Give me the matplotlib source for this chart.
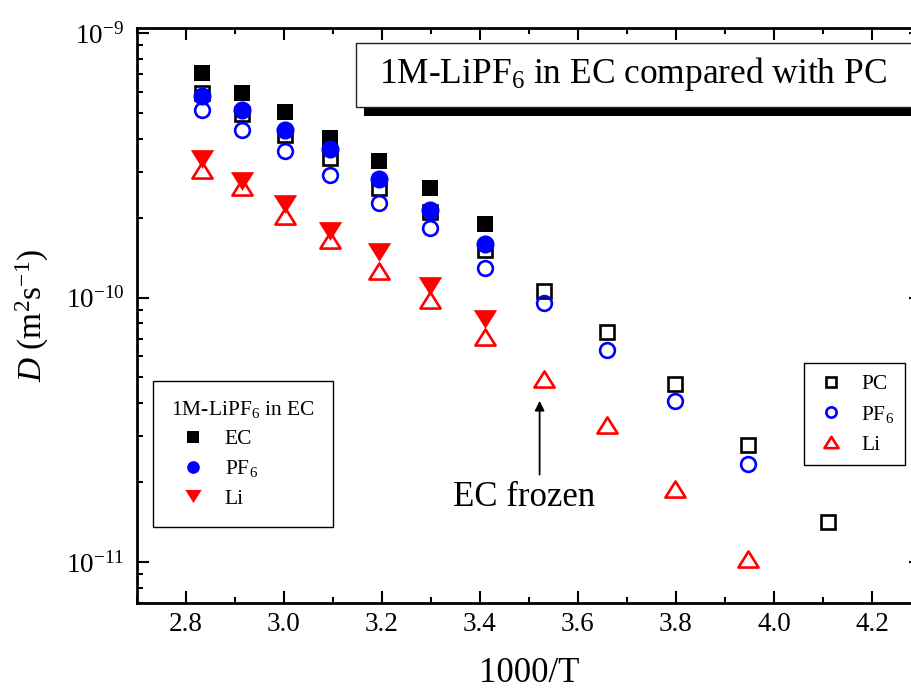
import matplotlib
matplotlib.use('Agg')
import matplotlib.pyplot as plt
from matplotlib.path import Path
from matplotlib.markers import MarkerStyle
from matplotlib.patches import Rectangle
from matplotlib.ticker import MultipleLocator, LogLocator, FormatStrFormatter, NullFormatter

# 数据：扩散系数 D (m^2/s) 与 1000/T
x_ec = [2.833, 2.914, 3.002, 3.095, 3.194, 3.299, 3.411]
x_pc = [2.833, 2.914, 3.002, 3.095, 3.194, 3.299, 3.411, 3.531, 3.660, 3.799, 3.948, 4.111]

# 1M-LiPF6 in EC（实心符号）
D_ec_solvent = [7.10e-10, 5.97e-10, 5.05e-10, 4.02e-10, 3.30e-10, 2.60e-10, 1.90e-10]
D_ec_pf6 = [5.79e-10, 5.11e-10, 4.31e-10, 3.65e-10, 2.81e-10, 2.14e-10, 1.60e-10]
D_ec_li = [3.35e-10, 2.77e-10, 2.27e-10, 1.78e-10, 1.49e-10, 1.11e-10, 8.32e-11]

# 1M-LiPF6 in PC（空心符号）
D_pc_solvent = [5.96e-10, 4.94e-10, 4.12e-10, 3.37e-10, 2.60e-10, 2.11e-10,
                1.51e-10, 1.06e-10, 7.43e-11, 4.72e-11, 2.76e-11, 1.42e-11]
D_pc_pf6 = [5.13e-10, 4.29e-10, 3.58e-10, 2.90e-10, 2.28e-10, 1.83e-10,
            1.30e-10, 9.51e-11, 6.35e-11, 4.07e-11, 2.35e-11]
D_pc_li = [3.05e-10, 2.62e-10, 2.04e-10, 1.65e-10, 1.26e-10, 9.82e-11,
           7.08e-11, 4.92e-11, 3.30e-11, 1.89e-11, 1.03e-11]

labels_ec = ['EC', 'PF$_6$', 'Li']
labels_pc = ['PC', 'PF$_6$', 'Li']

plt.rcParams['font.family'] = ['Liberation Serif', 'DejaVu Serif']
plt.rcParams['mathtext.fontset'] = 'custom'
plt.rcParams['mathtext.rm'] = 'Liberation Serif'
plt.rcParams['mathtext.it'] = 'Liberation Serif:italic'
plt.rcParams['mathtext.bf'] = 'Liberation Serif:bold'

# 扁一点的三角形，和原图一致（closed=True 时最后一个点会被忽略，所以重复起点）
tri_up = MarkerStyle(Path([(-1, -0.8), (1, -0.8), (0, 0.8), (-1, -0.8)], closed=True),
                     joinstyle='miter')
tri_down = MarkerStyle(Path([(-1, 0.8), (1, 0.8), (0, -0.8), (-1, 0.8)], closed=True),
                       joinstyle='miter')

fig = plt.figure(figsize=(9.12, 6.89), dpi=100)
ax = fig.add_axes([0.1498, 0.1248, 0.8601, 0.8350])

# 先画 PC（空心），再画 EC（实心）
h_pc1, = ax.plot(x_pc, D_pc_solvent, ls='none', marker='s', ms=10.2, mew=1.9,
                 mfc='none', mec='black')
h_pc2, = ax.plot(x_pc[:len(D_pc_pf6)], D_pc_pf6, ls='none', marker='o', ms=10.6, mew=1.9,
                 mfc='none', mec='blue')
h_pc3, = ax.plot(x_pc[:len(D_pc_li)], D_pc_li, ls='none', marker=tri_up, ms=14.5, mew=1.9,
                 mfc='none', mec='red')

h_ec1, = ax.plot(x_ec, D_ec_solvent, ls='none', marker='s', ms=12.2, mew=0,
                 mfc='black')
h_ec2, = ax.plot(x_ec, D_ec_pf6, ls='none', marker='o', ms=13, mew=0, mfc='blue')
h_ec3, = ax.plot(x_ec, D_ec_li, ls='none', marker=tri_down, ms=16.8, mew=0, mfc='red')

ax.set_yscale('log')
ax.set_xlim(2.7, 4.3)
ax.set_ylim(7e-12, 1.05e-9)

ax.xaxis.set_major_locator(MultipleLocator(0.2))
ax.xaxis.set_minor_locator(MultipleLocator(0.1))
ax.xaxis.set_major_formatter(FormatStrFormatter('%.1f'))
ax.yaxis.set_major_locator(LogLocator(base=10))
ax.yaxis.set_minor_locator(LogLocator(base=10, subs=range(2, 10)))
ax.yaxis.set_minor_formatter(NullFormatter())

ax.tick_params(which='both', direction='in', top=True, right=True, width=1.5)
ax.tick_params(which='major', length=8.6, labelsize=19.5)
ax.tick_params(which='minor', length=4.3)
ax.tick_params(axis='x', which='major', pad=6.6)
ax.tick_params(axis='y', which='major', pad=9)
for s in ax.spines.values():
    s.set_linewidth(2)

ax.set_xlabel('1000/T', fontsize=25)
ax.xaxis.label.set_va('center')
ax.xaxis.set_label_coords(0.5, -0.123)
ax.set_ylabel('$D$ (m$^2$s$^{-1}$)', fontsize=24)
ax.yaxis.label.set_va('center')
ax.yaxis.set_label_coords(-0.1334, 0.5)

# EC 凝固标注
ax.annotate('', xy=(3.522, 4.17e-11), xytext=(3.522, 2.09e-11),
            arrowprops=dict(arrowstyle='-|>', color='black', lw=1.3, mutation_scale=14))
ax.text(3.49, 1.627e-11, 'EC frozen', fontsize=25, ha='center', va='baseline')

# 图例
leg1 = ax.legend([h_ec1, h_ec2, h_ec3], labels_ec, title='1M-LiPF$_6$ in EC',
                 title_fontsize=15.5, fontsize=15.5, alignment='left',
                 loc='upper left', bbox_to_anchor=(0.0205, 0.386), borderaxespad=0,
                 fancybox=False, edgecolor='black', framealpha=1, markerscale=0.7,
                 handlelength=2.0, handletextpad=0.5, borderpad=0.85, labelspacing=0.42)
leg1.get_frame().set_linewidth(1.0)
ax.add_artist(leg1)

leg2 = ax.legend([h_pc1, h_pc2, h_pc3], labels_pc, fontsize=15.5,
                 loc='upper left', bbox_to_anchor=(0.851, 0.4167), borderaxespad=0,
                 fancybox=False, edgecolor='black', framealpha=1, markerscale=0.7,
                 handlelength=1.45, handletextpad=0.7, borderpad=0.5, labelspacing=0.45)
leg2.get_frame().set_linewidth(1.0)

# 标题框（带阴影）
fig.patches.append(Rectangle((0.399, 0.8316), 0.62, 0.0934, transform=fig.transFigure,
                             facecolor='black', edgecolor='none', zorder=5))
fig.patches.append(Rectangle((0.3904, 0.8451), 0.63, 0.0929, transform=fig.transFigure,
                             facecolor='white', edgecolor='#222222', lw=1.0, zorder=6))
fig.text(379 / 912, 1 - 83.3 / 689, '1M-LiPF$_6$ in EC compared with PC',
         fontsize=25.5, ha='left', va='baseline', zorder=7)

fig.savefig('out.png', dpi=100)
